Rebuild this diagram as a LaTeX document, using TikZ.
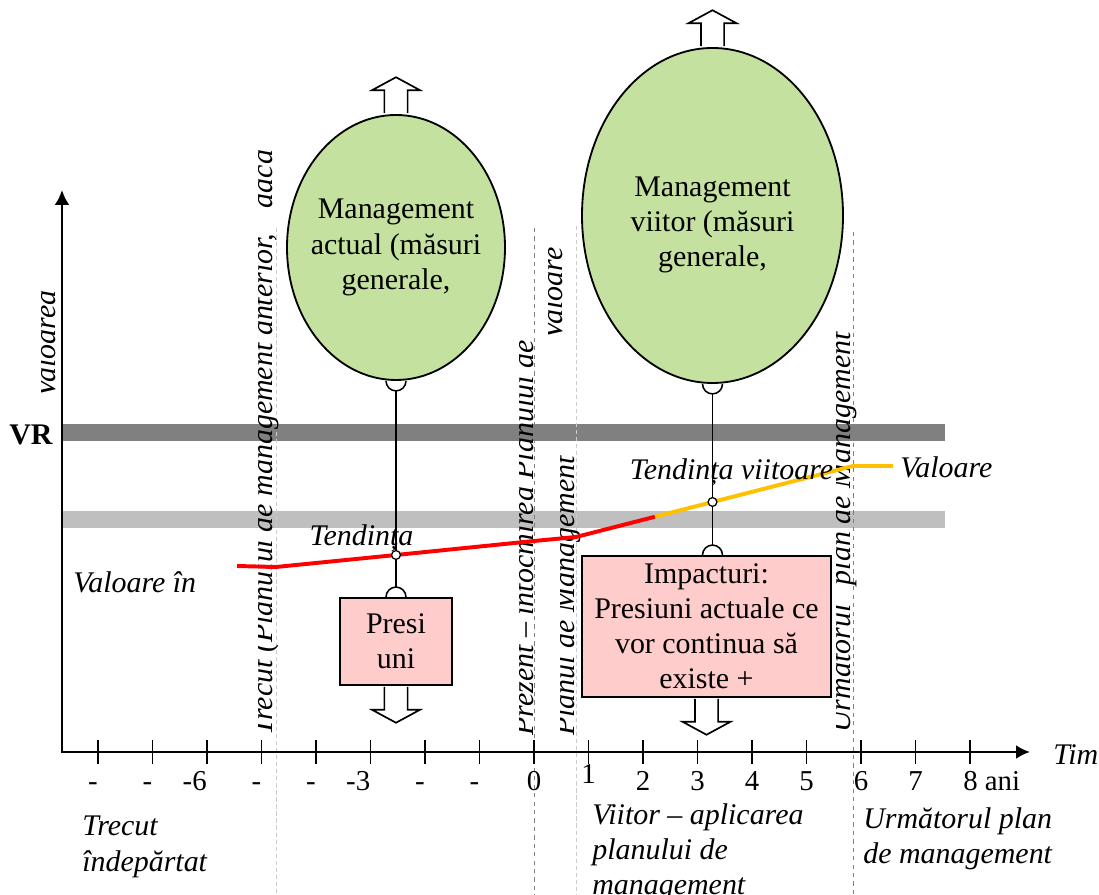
\documentclass[tikz,border=0pt]{standalone}
\usepackage{fontspec}
\setmainfont{Liberation Serif}
\usetikzlibrary{arrows.meta,shapes.geometric,positioning}

\newcommand{\diagfont}{\fontsize{21.3}{25}\selectfont}

\definecolor{leafgreen}{RGB}{196,225,160}
\definecolor{pressurepink}{RGB}{255,204,204}
\definecolor{trendred}{RGB}{255,0,0}
\definecolor{trendgold}{RGB}{255,192,0}
\definecolor{banddark}{RGB}{128,128,128}
\definecolor{bandlight}{RGB}{191,191,191}

\tikzset{
    mgmt/.style={ellipse, draw, line width=1.3pt, fill=leafgreen, inner sep=0pt},
    impact/.style={draw, line width=1.3pt, fill=pressurepink, align=center, font=\diagfont},
    guide/.style={dashed, gray, line width=0.6pt},
    guidelight/.style={densely dashed, gray!40, line width=0.6pt},
    vtext/.style={rotate=90, anchor=base west, inner sep=0pt, font=\diagfont\itshape},
    lbl/.style={inner sep=0pt, font=\diagfont\itshape},
    ticklbl/.style={inner sep=0pt, font=\fontsize{20.5}{24}\selectfont},
    yeartick/.style={line width=1.4pt},
    axis/.style={line width=1.8pt, {Latex[length=0.375cm,width=0.375cm]}-{Latex[length=0.35cm,width=0.35cm]}},
    trend/.style={line width=2.8pt},
    hinge/.style={circle, draw, fill=white, line width=0.9pt, inner sep=0pt, minimum size=0.22cm},
    link/.style={line width=1.1pt},
    blockup/.pic={
        \draw[line width=1.2pt, fill=white] (-0.29,0) -- (-0.29,0.575) -- (-0.6,0.575)
            -- (0,0.9) -- (0.6,0.575) -- (0.29,0.575) -- (0.29,0);
    }
}

\begin{document}
\begin{tikzpicture}
    % canvas
    \fill[white] (0,0) rectangle (27.475,22.375);
    \useasboundingbox (0,0) rectangle (27.475,22.375);

    % reference value bands
    \fill[banddark] (1.55,11.35) rectangle (23.625,11.775);
    \fill[bandlight] (1.55,9.175) rectangle (23.625,9.6);

    % period separators
    \draw[guidelight] (6.9,16.675) -- (6.9,0);
    \draw[guide] (13.35,16.675) -- (13.35,0);
    \draw[guidelight] (14.4,16.725) -- (14.4,0);
    \draw[guide] (21.325,16.575) -- (21.325,0);

    % vertical captions, cut by their frames
    \begin{scope}
        \clip (1.015,12.2) rectangle (1.575,15.6)
              (6.44,3.8) rectangle (7.0,19.2)
              (12.965,3.8) rectangle (13.525,14)
              (13.99,3.8) rectangle (14.55,11.6)
              (13.69,13.6) rectangle (14.25,17)
              (20.89,3.8) rectangle (21.45,15.2);
        \node[vtext] (valAxis) at (1.375,12.425) {Valoarea};
        \node[vtext] (pastPlan) at (6.8,3.975) {Trecut (Planului de management anterior,\hspace{0.6em} dacă};
        \node[vtext] (nowPlan) at (13.325,3.975) {Prezent – întocmirea Planului de};
        \node[vtext] (planMgmt) at (14.35,3.975) {Planul de Management};
        \node[vtext] (planVal) at (14.05,13.875) {Valoare};
        \node[vtext] (nextPlan) at (21.25,4.05) {Următorul\hspace{0.4em} plan de Management};
    \end{scope}

    % axes
    \coordinate (origin) at (1.55,3.575);
    \coordinate (yEnd) at (1.55,17.625);
    \coordinate (xEnd) at (25.75,3.575);
    \draw[axis] (yEnd) -- (origin) -- (xEnd);
    \node[font=\diagfont\bfseries, inner sep=0pt, anchor=base] (vrLbl) at (0.775,11.25) {VR};
    \node[lbl, anchor=base west] (timeLbl) at (26.325,3.25) {Tim};

    % ticks and years
    \foreach \i in {-8,...,8}
        \draw[yeartick] (13.35+1.3625*\i,3.275) -- ++(0,0.6);
    \foreach \i/\yr in {-8/-,-7/-,-6/-6,-5/-,-4/-,-3/-3,-2/-,-1/-}
        \node[ticklbl, anchor=base east] (past\i) at (13.35+1.3625*\i,2.6) {\yr};
    \foreach \i in {0,2,3,...,7}
        \node[ticklbl, anchor=base] (year\i) at (13.35+1.3625*\i,2.6) {\i};
    \node[ticklbl, anchor=base] (year1) at (14.7125,2.775) {1};
    \node[ticklbl, anchor=base west] (year8) at (24.075,2.6) {8 ani};

    % trend of the value
    \draw[trend, trendred] (5.925,8.225) -- (6.9,8.2) -- (9.9,8.5) coordinate (curOn)
        -- (13.35,8.85) -- (14.4,8.95) -- (16.375,9.456);
    \draw[trend, trendgold] (16.375,9.456) -- (17.8125,9.825) coordinate (futOn)
        -- (21.325,10.725) -- (22.325,10.725);

    % present management and pressures
    \node[mgmt, minimum width=5.45cm, minimum height=6.625cm] (curMgmt) at (9.9,16.1875) {};
    \node[align=center, font=\diagfont] (curTxt) at (curMgmt.center)
        {Management\\actual (măsuri\\generale,};
    \pic at ([yshift=0.6pt]curMgmt.north) {blockup};
    \node[impact, minimum width=2.8cm, minimum height=2.175cm] (presBox) at (9.9,6.3375)
        {Presi\\uni};
    \pic[rotate=180] at ([yshift=-0.6pt]presBox.south) {blockup};

    % future management and impacts
    \node[mgmt, minimum width=6.525cm, minimum height=8.375cm] (futMgmt) at (17.8125,16.9875) {};
    \node[align=center, font=\diagfont] (futTxt) at ([yshift=-0.24cm]futMgmt.center)
        {Management\\viitor (măsuri\\generale,};
    \pic at ([yshift=0.6pt]futMgmt.north) {blockup};
    \node[impact, minimum width=6.225cm, minimum height=3.525cm] (impBox) at (17.6625,6.7125)
        {Impacturi:\\Presiuni actuale ce\\vor continua să\\existe +};
    \pic[rotate=180] at ([yshift=-0.6pt]impBox.south) {blockup};

    % sockets and links
    \draw[link] ([xshift=-0.25cm]curMgmt.south) arc[start angle=180, end angle=360, radius=0.25cm];
    \coordinate (curSock) at ([yshift=-0.25cm]curMgmt.south);
    \draw[link] ([xshift=-0.25cm]presBox.north) arc[start angle=180, end angle=0, radius=0.25cm];
    \coordinate (presTop) at ([yshift=0.25cm]presBox.north);
    \draw[link] ([xshift=-0.25cm]futMgmt.south) arc[start angle=180, end angle=360, radius=0.25cm];
    \coordinate (futSock) at ([yshift=-0.25cm]futMgmt.south);
    \coordinate (impBase) at (futMgmt.south |- impBox.north);
    \draw[link] ([xshift=-0.25cm]impBase) arc[start angle=180, end angle=0, radius=0.25cm];
    \coordinate (impTop) at ([yshift=0.25cm]impBase);

    \node[hinge] (curPt) at (curOn) {};
    \node[hinge] (futPt) at (futOn) {};
    \draw[link] (curSock) -- (curPt) -- (presTop);
    \draw[link] (futSock) -- (futPt) -- (impTop);

    % labels on the trend
    \node[lbl, anchor=base west] (startVal) at (1.825,7.55) {Valoare în};
    \node[lbl, anchor=base] (curTrend) at (9.0375,8.725) {Tendința};
    \node[lbl, anchor=base] (futTrend) at (18.2875,10.375) {Tendința viitoare};
    \node[lbl, anchor=base west] (endVal) at (22.5,10.425) {Valoare};

    % periods under the time axis
    \node[lbl, anchor=north west, align=left] (pastTxt) at (2.05,1.975) {Trecut\\îndepărtat};
    \node[lbl, anchor=north west, align=left] (futPeriod) at (14.8,2.3)
        {Viitor – aplicarea\\planului de\\management};
    \node[lbl, anchor=north west, align=left] (nextTxt) at (21.575,2.2)
        {Următorul plan\\de management};
\end{tikzpicture}
\end{document}
